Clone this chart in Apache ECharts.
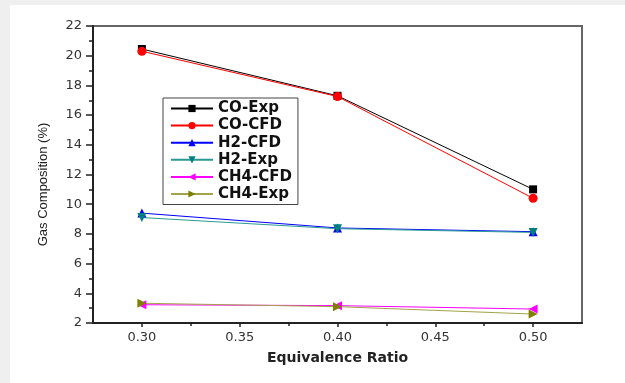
<!DOCTYPE html>
<html><head><meta charset="utf-8">
<script src="https://cdn.jsdelivr.net/npm/echarts@6/dist/echarts.min.js"></script>
<style>html,body{margin:0;padding:0;background:#fff}#c{width:625px;height:383px}</style>
</head><body><div id="c"></div>
<script>
var ratios = [0.30, 0.40, 0.50];
var coExp  = [20.45, 17.3, 11.0];
var coCfd  = [20.3, 17.25, 10.4];
var h2Cfd  = [9.4, 8.4, 8.15];
var h2Exp  = [9.1, 8.35, 8.1];
var ch4Cfd = [3.23, 3.17, 2.94];
var ch4Exp = [3.33, 3.1, 2.6];
var xMajor = [0.30, 0.35, 0.40, 0.45, 0.50];
var xMinor = [0.325, 0.375, 0.425, 0.475];
var names = ['CO-Exp','CO-CFD','H2-CFD','H2-Exp','CH4-CFD','CH4-Exp'];

function pts(arr){ return ratios.map(function(x,i){ return [x, arr[i]]; }); }
var defs = [
  {name:names[0], data:coExp,  color:'#000000', line:'#000000', sym:'rect', rot:0, size:8},
  {name:names[1], data:coCfd,  color:'#ff0000', line:'#ff0000', sym:'circle', rot:0, size:9},
  {name:names[2], data:h2Cfd,  color:'#0000ff', line:'#0000ff', sym:'triangle', rot:0, size:9},
  {name:names[3], data:h2Exp,  color:'#007f7f', line:'#2a9a94', sym:'triangle', rot:180, size:9},
  {name:names[4], data:ch4Cfd, color:'#ff00ff', line:'#ff00ff', sym:'triangle', rot:90, size:9},
  {name:names[5], data:ch4Exp, color:'#7f7f00', line:'#a3a34a', sym:'triangle', rot:-90, size:9}
];
var series = defs.map(function(d){
  return {name:d.name, type:'line', xAxisIndex:0, data:pts(d.data), symbol:d.sym, symbolSize:d.size,
    symbolRotate:d.rot, showSymbol:true,
    itemStyle:{color:d.color}, lineStyle:{color:d.line, width:1}, emphasis:{disabled:true}, animation:false};
});
var chart = echarts.init(document.getElementById('c'));
chart.setOption({
  backgroundColor:'#efefef',
  animation:false,
  graphic:[{type:'rect', z:-10, shape:{x:10,y:5,width:615,height:378}, style:{fill:'#ffffff'}}],
  grid:{left:93, right:43, top:26, bottom:60, show:true, borderColor:'#666', borderWidth:2, backgroundColor:'transparent'},
  legend:{orient:'vertical', left:163, top:98, data:names, itemWidth:42, itemHeight:9, itemGap:2.1,
    padding:[3,6,3,7], borderColor:'#444', borderWidth:1, backgroundColor:'#fff',
    textStyle:{fontFamily:'DejaVu Sans', fontSize:15, fontWeight:'bold', color:'#111', lineHeight:14.5}},
  xAxis:[{type:'value', min:0.275, max:0.525, position:'bottom',
    name:'Equivalence Ratio', nameLocation:'middle', nameGap:28,
    nameTextStyle:{fontFamily:'DejaVu Sans', fontSize:14, fontWeight:'bold', color:'#222'},
    axisLine:{show:true, lineStyle:{color:'#222', width:2}},
    axisTick:{show:true, customValues:xMajor, length:4, lineStyle:{color:'#222', width:1.5}},
    axisLabel:{customValues:xMajor, margin:8, fontFamily:'DejaVu Sans', fontSize:13, color:'#333',
      formatter:function(v){return v.toFixed(2);}},
    splitLine:{show:false}},
   {type:'value', min:0.275, max:0.525, position:'bottom',
    axisLine:{show:false}, axisTick:{show:true, customValues:xMinor, length:3, lineStyle:{color:'#222', width:1.5}},
    axisLabel:{show:false}, splitLine:{show:false}}],
  yAxis:{type:'value', min:2, max:22, interval:2,
    name:'Gas Composition (%)', nameLocation:'middle', nameGap:43,
    nameTextStyle:{fontFamily:'Liberation Sans', fontSize:13, color:'#222', padding:[0,20,0,0]},
    axisLine:{show:true, lineStyle:{color:'#222', width:2}},
    axisTick:{show:true, length:7, lineStyle:{color:'#222', width:1.5}},
    minorTick:{show:true, splitNumber:2, length:4, lineStyle:{color:'#222', width:1.5}},
    axisLabel:{margin:11, fontFamily:'DejaVu Sans', fontSize:13, color:'#333'},
    splitLine:{show:false}},
  series:series
});
</script></body></html>
